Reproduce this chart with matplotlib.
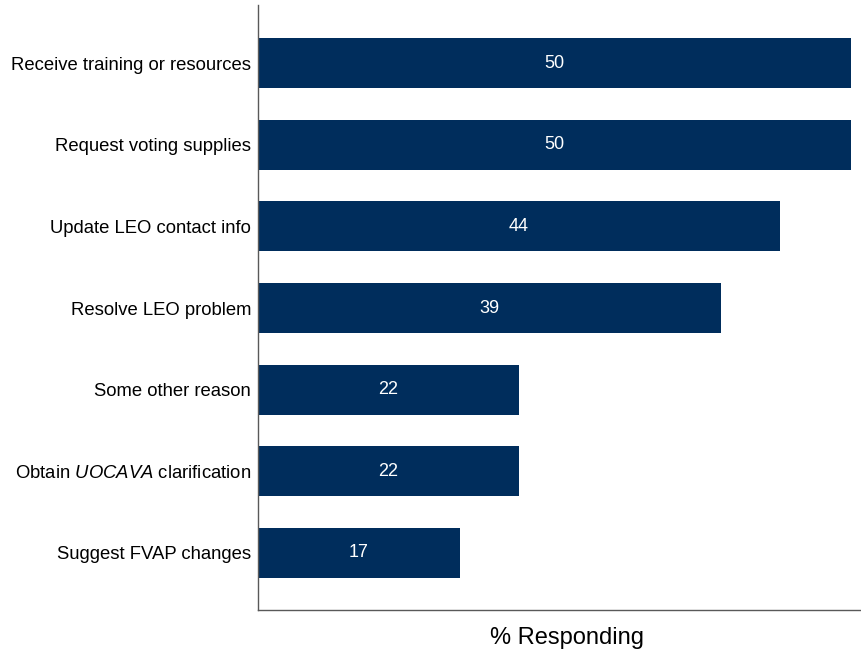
import matplotlib
matplotlib.use("Agg")
import matplotlib.pyplot as plt

plt.rcParams['font.family'] = ['Liberation Sans', 'DejaVu Sans']
plt.rcParams['mathtext.fontset'] = 'custom'
plt.rcParams['mathtext.rm'] = 'Liberation Sans'
plt.rcParams['mathtext.it'] = 'Liberation Sans:italic'

categories = [
    'Receive training or resources',
    'Request voting supplies',
    'Update LEO contact info',
    'Resolve LEO problem',
    'Some other reason',
    r'Obtain $\it{UOCAVA}$ clarification',
    'Suggest FVAP changes',
]
values = [50, 50, 44, 39, 22, 22, 17]

bar_color = '#002D5C'

fig = plt.figure(figsize=(8.62, 6.51), dpi=100)
ax = fig.add_axes([0.2993, 0.063, 0.7007, 0.929])

y = list(range(len(categories)))
ax.barh(y, values, height=0.61, color=bar_color)

# value labels in the middle of each bar
for yi, v in zip(y, values):
    ax.text(v / 2, yi, str(v), color='white', ha='center', va='center', fontsize=13)

ax.set_yticks(y)
ax.set_yticklabels(categories, fontsize=13.3)
ax.tick_params(axis='y', length=0, pad=5)
ax.set_xticks([])
ax.set_xlim(0, 50.93)
ax.set_ylim(6.7, -0.71)

for s in ['top', 'right']:
    ax.spines[s].set_visible(False)
for s in ['left', 'bottom']:
    ax.spines[s].set_color('#595959')
    ax.spines[s].set_linewidth(1.0)

ax.set_xlabel('% Responding', fontsize=17, labelpad=12)
ax.xaxis.label.set_x(0.512)

fig.savefig('out.png', dpi=100)
